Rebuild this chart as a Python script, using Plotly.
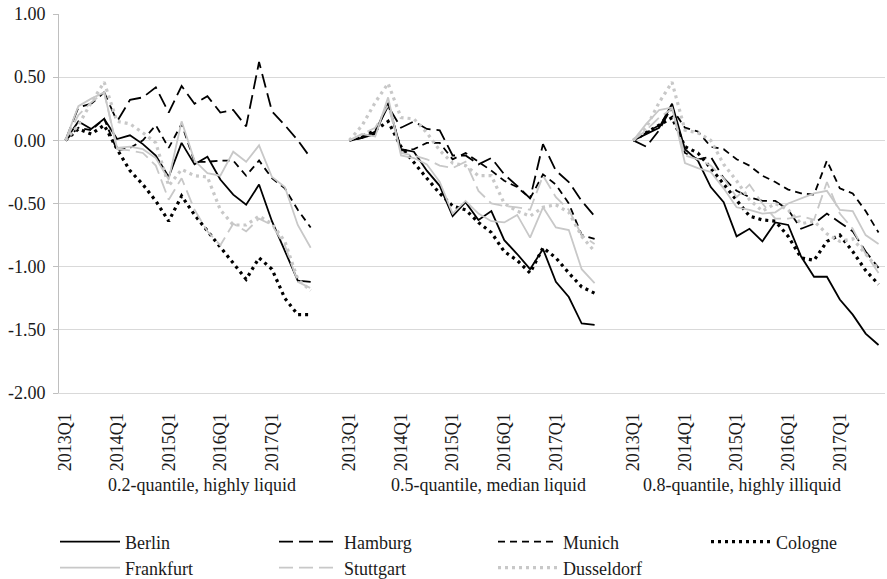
import plotly.graph_objects as go

# quarters 2013Q1..2017Q4, three liquidity panels
QUARTERS = [f"{y}Q{q}" for y in range(2013, 2018) for q in range(1, 5)]
PANELS = ["0.2-quantile, highly liquid", "0.5-quantile, median liquid", "0.8-quantile, highly illiquid"]
TICK_LABELS = ["2013Q1", "2014Q1", "2015Q1", "2016Q1", "2017Q1"]

berlin_liq = [0, 0.15, 0.09, 0.17, 0.01, 0.04, -0.03, -0.12, -0.29, -0.02, -0.19, -0.13, -0.31, -0.43, -0.51, -0.35, -0.64, -0.88, -1.11, -1.12]
berlin_med = [0, 0.02, 0.05, 0.29, -0.07, -0.09, -0.24, -0.36, -0.60, -0.49, -0.63, -0.56, -0.79, -0.90, -1.02, -0.86, -1.12, -1.24, -1.45, -1.46]
berlin_ill = [0, 0.05, 0.10, 0.29, -0.07, -0.16, -0.37, -0.49, -0.76, -0.70, -0.80, -0.65, -0.67, -0.92, -1.08, -1.08, -1.26, -1.38, -1.53, -1.62]

hamburg_liq = [0, 0.26, 0.29, 0.38, 0.15, 0.32, 0.34, 0.42, 0.22, 0.43, 0.29, 0.35, 0.22, 0.24, 0.11, 0.62, 0.23, 0.12, 0.0, -0.14]
hamburg_med = [0, 0.02, 0.07, 0.27, 0.10, 0.15, 0.09, 0.08, -0.12, -0.12, -0.19, -0.14, -0.27, -0.36, -0.46, -0.03, -0.24, -0.33, -0.48, -0.60]
hamburg_ill = [0, -0.05, 0.08, 0.27, -0.10, -0.15, -0.13, -0.30, -0.40, -0.45, -0.48, -0.48, -0.55, -0.70, -0.66, -0.58, -0.65, -0.72, -0.88, -1.01]

munich_liq = [0, 0.10, 0.08, 0.17, -0.08, -0.06, 0.0, 0.12, -0.06, 0.13, -0.17, -0.17, -0.16, -0.16, -0.28, -0.16, -0.30, -0.38, -0.55, -0.69]
munich_med = [0, 0.03, 0.06, 0.30, -0.08, -0.07, -0.02, -0.02, -0.15, -0.10, -0.17, -0.24, -0.32, -0.37, -0.46, -0.27, -0.35, -0.50, -0.75, -0.78]
munich_ill = [0, 0.06, 0.12, 0.25, 0.10, 0.07, -0.05, -0.07, -0.15, -0.20, -0.28, -0.33, -0.39, -0.42, -0.43, -0.16, -0.38, -0.42, -0.56, -0.73]

cologne_liq = [0, 0.09, 0.05, 0.12, -0.07, -0.24, -0.35, -0.48, -0.64, -0.44, -0.59, -0.72, -0.85, -0.97, -1.10, -0.93, -1.02, -1.25, -1.38, -1.38]
cologne_med = [0, 0.03, 0.08, 0.15, -0.05, -0.18, -0.30, -0.42, -0.52, -0.55, -0.65, -0.73, -0.88, -0.95, -1.05, -0.85, -0.93, -1.05, -1.16, -1.21]
cologne_ill = [0, 0.06, 0.12, 0.18, -0.05, -0.10, -0.22, -0.35, -0.47, -0.60, -0.63, -0.64, -0.76, -0.93, -0.95, -0.80, -0.75, -0.88, -1.03, -1.14]

frankfurt_liq = [0, 0.27, 0.33, 0.38, -0.06, -0.05, -0.07, -0.14, -0.31, 0.15, -0.16, -0.26, -0.28, -0.09, -0.17, -0.04, -0.29, -0.37, -0.67, -0.85]
frankfurt_med = [0, 0.05, 0.03, 0.34, -0.12, -0.14, -0.19, -0.33, -0.58, -0.48, -0.58, -0.64, -0.65, -0.59, -0.77, -0.53, -0.69, -0.71, -1.02, -1.13]
frankfurt_ill = [0, 0.13, 0.24, 0.26, -0.18, -0.22, -0.25, -0.38, -0.53, -0.55, -0.58, -0.57, -0.50, -0.46, -0.42, -0.40, -0.55, -0.56, -0.75, -0.82]

stuttgart_liq = [0, 0.20, 0.30, 0.38, -0.07, -0.08, -0.10, -0.20, -0.47, -0.30, -0.55, -0.72, -0.83, -0.66, -0.72, -0.62, -0.67, -0.83, -1.12, -1.17]
stuttgart_med = [0, 0.05, 0.10, 0.28, -0.10, -0.12, -0.15, -0.20, -0.22, -0.17, -0.40, -0.50, -0.52, -0.53, -0.55, -0.28, -0.45, -0.55, -0.75, -0.82]
stuttgart_ill = [0, 0.08, 0.18, 0.25, -0.12, -0.15, -0.20, -0.30, -0.45, -0.35, -0.50, -0.62, -0.62, -0.60, -0.63, -0.33, -0.58, -0.70, -0.90, -1.05]

dusseldorf_liq = [0, 0.12, 0.30, 0.46, 0.15, 0.13, 0.06, -0.02, -0.36, -0.23, -0.28, -0.29, -0.55, -0.67, -0.67, -0.60, -0.66, -0.80, -1.10, -1.19]
dusseldorf_med = [0, 0.12, 0.30, 0.45, 0.18, 0.17, 0.06, -0.08, -0.18, -0.20, -0.28, -0.28, -0.50, -0.56, -0.60, -0.53, -0.51, -0.57, -0.76, -0.88]
dusseldorf_ill = [0, 0.10, 0.30, 0.46, 0.08, 0.06, 0.00, -0.19, -0.32, -0.47, -0.56, -0.50, -0.55, -0.66, -0.64, -0.74, -0.80, -0.78, -0.90, -1.02]

BLACK, GREY = "#000000", "#c8c8c8"
FONT = dict(family="Liberation Serif", size=18, color="#1a1a1a")
GAP = 2  # empty categories between panels
STEP = len(QUARTERS) + GAP
W, H = 887, 579

series = [
    ("Berlin", [berlin_liq, berlin_med, berlin_ill], BLACK, "solid", 1.8, "legend"),
    ("Hamburg", [hamburg_liq, hamburg_med, hamburg_ill], BLACK, "14px,6px", 1.8, "legend"),
    ("Munich", [munich_liq, munich_med, munich_ill], BLACK, "7px,5px", 1.8, "legend"),
    ("Cologne", [cologne_liq, cologne_med, cologne_ill], BLACK, "3px,4px", 3.2, "legend3"),
    ("Frankfurt", [frankfurt_liq, frankfurt_med, frankfurt_ill], GREY, "solid", 1.8, "legend2"),
    ("Stuttgart", [stuttgart_liq, stuttgart_med, stuttgart_ill], GREY, "14px,6px", 1.8, "legend2"),
    ("Dusseldorf", [dusseldorf_liq, dusseldorf_med, dusseldorf_ill], GREY, "3px,4px", 3.2, "legend2"),
]

fig = go.Figure()
for name, panels, color, dash, width, leg in series:
    xs, ys = [], []
    for p, vals in enumerate(panels):
        xs += [p * STEP + i for i in range(len(vals))] + [None]
        ys += list(vals) + [None]
    fig.add_trace(go.Scatter(x=xs, y=ys, mode="lines", name=name, legend=leg,
                             line=dict(color=color, dash=dash, width=width),
                             connectgaps=False))

tickvals, ticktext = [], []
for p in range(len(PANELS)):
    for lab in TICK_LABELS:
        tickvals.append(p * STEP + QUARTERS.index(lab))
        ticktext.append(lab)

yvals = [-2, -1.5, -1, -0.5, 0, 0.5, 1]
legend_style = dict(orientation="h", xref="container", yref="container", x=55 / W,
                    xanchor="left", yanchor="middle", entrywidth=144, entrywidthmode="pixels",
                    itemwidth=60, font=FONT, bgcolor="rgba(0,0,0,0)")
fig.update_layout(
    width=W, height=H,
    paper_bgcolor="white", plot_bgcolor="white",
    font=FONT,
    margin=dict(l=59, r=2, t=14, b=186),
    xaxis=dict(range=[-0.5, 3 * STEP - GAP - 0.5], tickvals=tickvals, ticktext=ticktext,
               tickangle=-90, showgrid=False, zeroline=False, showline=True, automargin=False,
               linecolor="#d9d9d9", linewidth=1, ticks="", ticklabelstandoff=12),
    yaxis=dict(range=[-2, 1], tickvals=yvals, ticktext=[f"{v:.2f}" for v in yvals],
               showgrid=True, gridcolor="#d9d9d9", gridwidth=1, zeroline=False, automargin=False,
               showline=True, linecolor="#bfbfbf", linewidth=1, ticklabeloverflow="allow",
               ticks="outside", ticklen=5, tickcolor="#bfbfbf", ticklabelstandoff=4),
    legend=dict(legend_style, y=(H - 542) / H),
    legend3=dict(legend_style, x=(55 + 651) / W, y=(H - 542) / H),
    legend2=dict(legend_style, y=(H - 568) / H),
)

centers = [10.6, 32.8, 52.4]
for cx, title in zip(centers, PANELS):
    fig.add_annotation(text=title, x=cx, xref="x", y=(393 - 485) / 379, yref="paper",
                       showarrow=False, yanchor="middle", font=FONT)

# drop the default 8px page margin so the figure sits at the window's corner
fig.write_html("out.html", config={"displayModeBar": False},
               post_script="document.body.style.margin = '0';")
